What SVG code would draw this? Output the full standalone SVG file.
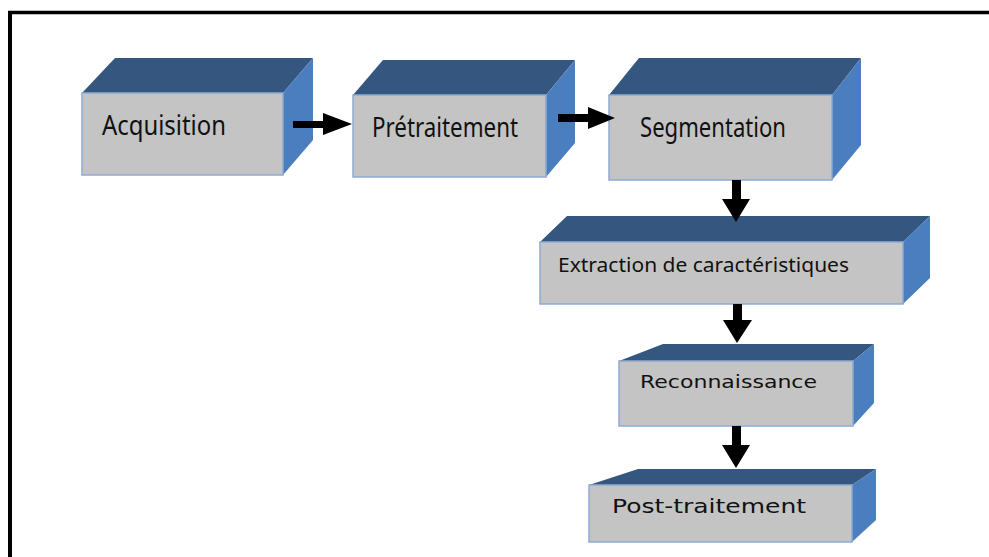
<svg xmlns="http://www.w3.org/2000/svg" width="989" height="557" viewBox="0 0 989 557">
  <style>
    .front { fill: #c4c4c4; stroke: #8eaad0; stroke-width: 1.5; }
    .top { fill: #34567f; }
    .side { fill: #4a7ebe; }
    .arrow { fill: #000000; }
    .lbl { font-family: "Noto Sans", "Open Sans", sans-serif; fill: #111111; }
    .lbl2 { font-family: "DejaVu Sans", "Verdana", sans-serif; fill: #111111; }
  </style>
  <rect x="0" y="0" width="989" height="557" fill="#ffffff"/>
  <!-- frame -->
  <g id="frame" stroke="#000000" fill="none">
    <line x1="8" y1="12.5" x2="989" y2="12.5" stroke-width="3.5"/>
    <line x1="10" y1="11" x2="10" y2="557" stroke-width="4"/>
  </g>

  <!-- process blocks -->
  <g id="acquisition">
    <polygon class="top" points="82,93 115,58 313,58 283,93"/>
    <polygon class="side" points="283,93 313,58 313,140 283,175"/>
    <rect class="front" x="82" y="93" width="201" height="82"/>
    <text class="lbl" x="102" y="135" font-size="27" textLength="124" lengthAdjust="spacingAndGlyphs">Acquisition</text>
  </g>
  <g id="pretraitement">
    <polygon class="top" points="353,95 383,60 575,60 546,95"/>
    <polygon class="side" points="546,95 575,60 575,143 546,177"/>
    <rect class="front" x="353" y="95" width="193" height="82"/>
    <text class="lbl" x="372" y="137" font-size="27" textLength="146" lengthAdjust="spacingAndGlyphs">Prétraitement</text>
  </g>
  <g id="segmentation">
    <polygon class="top" points="609,95 639,58 861,58 832,95"/>
    <polygon class="side" points="832,95 861,58 861,145 832,180"/>
    <rect class="front" x="609" y="95" width="223" height="85"/>
    <text class="lbl" x="640" y="137" font-size="27" textLength="146" lengthAdjust="spacingAndGlyphs">Segmentation</text>
  </g>
  <g id="extraction">
    <polygon class="top" points="540,242 567,216 930,216 903,242"/>
    <polygon class="side" points="903,242 930,216 930,278 903,304"/>
    <rect class="front" x="540" y="242" width="363" height="62"/>
    <text class="lbl" x="558" y="272" font-size="19.5" textLength="291" lengthAdjust="spacingAndGlyphs">Extraction de caractéristiques</text>
  </g>
  <g id="reconnaissance">
    <polygon class="top" points="619,361 663,344 874,344 853,361"/>
    <polygon class="side" points="853,361 874,344 874,403 853,426"/>
    <rect class="front" x="619" y="361" width="234" height="65"/>
    <text class="lbl2" x="640" y="388" font-size="18" textLength="177" lengthAdjust="spacingAndGlyphs">Reconnaissance</text>
  </g>
  <g id="post-traitement">
    <polygon class="top" points="589,485 638,469 876,469 852,485"/>
    <polygon class="side" points="852,485 876,469 876,520 852,542"/>
    <rect class="front" x="589" y="485" width="263" height="57"/>
    <text class="lbl2" x="612" y="513" font-size="19" textLength="194" lengthAdjust="spacingAndGlyphs">Post-traitement</text>
  </g>

  <!-- connectors -->
  <g id="connectors" class="arrow">
    <polygon points="293,121 323,121 323,113 352,124 323,135 323,128 293,128"/>
    <polygon points="558,114 588,114 588,107 615,118 588,129 588,122 558,122"/>
    <polygon points="732,180 741,180 741,199 750,199 736,222 722,199 732,199"/>
    <polygon points="733,304 742,304 742,320 752,320 737,343 723,320 733,320"/>
    <polygon points="732,426 741,426 741,445 750,445 736,468 722,445 732,445"/>
  </g>
</svg>
